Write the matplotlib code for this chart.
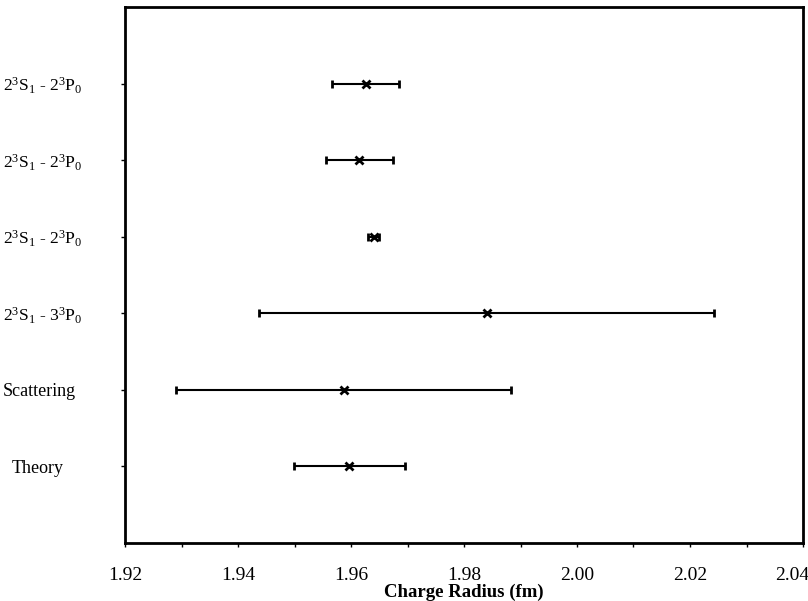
import matplotlib
matplotlib.use("Agg")
import matplotlib.pyplot as plt
import matplotlib.transforms as mtransforms
import numpy as np

plt.rcParams['font.family'] = ['Liberation Serif', 'DejaVu Serif']
plt.rcParams['mathtext.fontset'] = 'custom'
plt.rcParams['mathtext.rm'] = 'Liberation Serif'
plt.rcParams['mathtext.it'] = 'Liberation Serif:italic'
plt.rcParams['mathtext.bf'] = 'Liberation Serif:bold'

labels = [r'2$^{3}$S$_{1}$ - 2$^{3}$P$_{0}$',
          r'2$^{3}$S$_{1}$ - 2$^{3}$P$_{0}$',
          r'2$^{3}$S$_{1}$ - 2$^{3}$P$_{0}$',
          r'2$^{3}$S$_{1}$ - 3$^{3}$P$_{0}$',
          'Scattering',
          'Theory']
radius = [1.9626, 1.9615, 1.9640, 1.9840, 1.9587, 1.9597]
error = [0.0059, 0.0059, 0.0010, 0.0402, 0.0296, 0.0098]
xticks = [1.92, 1.94, 1.96, 1.98, 2.00, 2.02, 2.04]

fig = plt.figure(figsize=(8.08, 6.01), dpi=100)
ax = fig.add_axes([125 / 808, 1 - 543 / 601, 678 / 808, 536 / 601])

n = len(labels)
ypos = np.arange(n, 0, -1)
ax.errorbar(radius, ypos, xerr=error, fmt='x', color='black', ecolor='black',
            elinewidth=1.5, capsize=3.2, capthick=1.5, markersize=6, markeredgewidth=2)

ax.set_xlim(1.92, 2.04)
ax.set_ylim(0, n + 1)
ax.set_xticks(xticks)
ax.set_xticklabels([f'{v:.2f}' for v in xticks], fontsize=14)
ax.set_xticks(np.arange(1.93, 2.04, 0.02), minor=True)
ax.set_yticks(ypos)
ax.set_yticklabels(labels, fontsize=13, ha='left')
ax.tick_params(axis='y', length=3, width=1, pad=0, direction='out')
ax.tick_params(axis='x', which='both', length=3, width=1, direction='out', pad=14)
for lbl in ax.get_yticklabels():
    txt = lbl.get_text()
    if '$' in txt:
        lbl.set_fontsize(12.6)
    left_px = 16 if txt == 'Theory' else 7
    lbl.set_x(-(125 - left_px) / 678)

last = ax.get_xticklabels()[-1]
last.set_transform(last.get_transform() +
                   mtransforms.ScaledTranslation(-11 / 100, 0, fig.dpi_scale_trans))

for s in ax.spines.values():
    s.set_linewidth(2)

ax.set_xlabel('Charge Radius (fm)', fontsize=13.5, fontweight='bold', labelpad=0)

fig.savefig('out.png', dpi=100)
